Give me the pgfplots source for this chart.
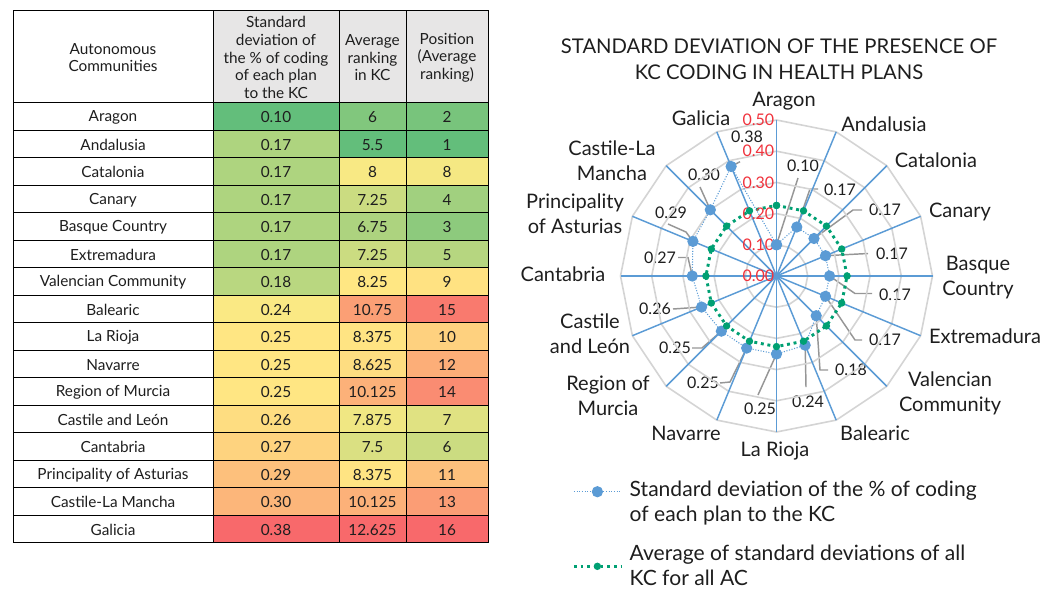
\documentclass[border=0pt]{standalone}
\usepackage{pgfplots}
\pgfplotsset{compat=1.18}
\usepgfplotslibrary{polar}
\usepackage{fontspec}
\setmainfont{Lato}
\definecolor{spoke}{RGB}{91,155,213}
\definecolor{avg}{RGB}{0,160,115}
\definecolor{gridc}{RGB}{212,212,212}
\definecolor{txt}{RGB}{30,30,30}
\definecolor{lead}{RGB}{150,150,150}
\definecolor{hdr}{RGB}{231,230,230}
\definecolor{tickred}{RGB}{240,50,60}

\newcommand{\tfont}{\fontsize{11.5}{13.3}\selectfont}
\newcommand{\cfont}{\fontsize{15}{18.8}\selectfont}
\newcommand{\lfont}{\fontsize{15.8}{18.8}\selectfont}
\newcommand{\dfont}{\fontsize{12}{14}\selectfont}

\newcommand{\tcell}[6]{%
 \addplot[draw=black, line width=0.75pt, fill={#5}] coordinates {(#1,#3) (#2,#3) (#2,#4) (#1,#4)} -- cycle;
 \node[font=\tfont, text=txt, align=center, yshift=-0.8pt] at (axis cs:{(#1+#2)/2},{(#3+#4)/2}) {#6};
}
\newcommand{\trow}[9]{%
 \tcell{13}{213}{#1}{#2}{white}{#3}%
 \tcell{213}{339}{#1}{#2}{#5}{#4}%
 \tcell{339}{406}{#1}{#2}{#7}{#6}%
 \tcell{406}{488}{#1}{#2}{#9}{#8}%
}

\begin{document}
\begin{tikzpicture}
\useasboundingbox (0,0) rectangle (792.75pt,-441.75pt);
\begin{axis}[
  at={(0,0)}, anchor=north west,
  x=0.75pt, y=0.75pt, y dir=reverse,
  xmin=0, xmax=1057, ymin=0, ymax=589,
  hide axis, clip=false,
]
% header
\tcell{13}{213}{10.5}{102.5}{white}{Autonomous\\Communities}
\tcell{213}{339}{10.5}{102.5}{hdr}{Standard\\deviation of\\the \% of coding\\of each plan\\to the KC}
\tcell{339}{406}{10.5}{102.5}{hdr}{Average\\ranking\\in KC}
\tcell{406}{488}{10.5}{102.5}{hdr}{Position\\(Average\\ranking)}
% rows
\trow{102.5}{130}{Aragon}{0.10}{rgb,255:red,99;green,190;blue,123}{6}{rgb,255:red,129;green,199;blue,125}{2}{rgb,255:red,120;green,196;blue,124}
\trow{130}{157.5}{Andalusia}{0.17}{rgb,255:red,174;green,212;blue,127}{5.5}{rgb,255:red,99;green,190;blue,123}{1}{rgb,255:red,99;green,190;blue,123}
\trow{157.5}{185}{Catalonia}{0.17}{rgb,255:red,174;green,212;blue,127}{8}{rgb,255:red,248;green,233;blue,132}{8}{rgb,255:red,245;green,232;blue,131}
\trow{185}{212.5}{Canary}{0.17}{rgb,255:red,174;green,212;blue,127}{7.25}{rgb,255:red,203;green,220;blue,129}{4}{rgb,255:red,161;green,208;blue,127}
\trow{212.5}{240}{Basque Country}{0.17}{rgb,255:red,174;green,212;blue,127}{6.75}{rgb,255:red,173;green,211;blue,127}{3}{rgb,255:red,141;green,202;blue,125}
\trow{240}{267.5}{Extremadura}{0.17}{rgb,255:red,174;green,212;blue,127}{7.25}{rgb,255:red,203;green,220;blue,129}{5}{rgb,255:red,182;green,214;blue,128}
\trow{267.5}{295}{Valencian Community}{0.18}{rgb,255:red,185;green,215;blue,128}{8.25}{rgb,255:red,255;green,231;blue,131}{9}{rgb,255:red,255;green,226;blue,130}
\trow{295}{322.5}{Balearic}{0.24}{rgb,255:red,250;green,233;blue,132}{10.75}{rgb,255:red,251;green,159;blue,117}{15}{rgb,255:red,249;green,122;blue,110}
\trow{322.5}{350}{La Rioja}{0.25}{rgb,255:red,255;green,230;blue,131}{8.375}{rgb,255:red,255;green,228;blue,131}{10}{rgb,255:red,254;green,209;blue,127}
\trow{350}{377.5}{Navarre}{0.25}{rgb,255:red,255;green,230;blue,131}{8.625}{rgb,255:red,254;green,221;blue,129}{12}{rgb,255:red,252;green,174;blue,120}
\trow{377.5}{405}{Region of Murcia}{0.25}{rgb,255:red,255;green,230;blue,131}{10.125}{rgb,255:red,252;green,177;blue,121}{14}{rgb,255:red,250;green,140;blue,114}
\trow{405}{432.5}{Castile and León}{0.26}{rgb,255:red,254;green,221;blue,129}{7.875}{rgb,255:red,240;green,231;blue,131}{7}{rgb,255:red,224;green,226;blue,130}
\trow{432.5}{460}{Cantabria}{0.27}{rgb,255:red,254;green,211;blue,127}{7.5}{rgb,255:red,218;green,224;blue,130}{6}{rgb,255:red,203;green,220;blue,129}
\trow{460}{487.5}{Principality of Asturias}{0.29}{rgb,255:red,253;green,192;blue,124}{8.375}{rgb,255:red,255;green,228;blue,131}{11}{rgb,255:red,253;green,192;blue,124}
\trow{487.5}{515}{Castile-La Mancha}{0.30}{rgb,255:red,252;green,182;blue,122}{10.125}{rgb,255:red,252;green,177;blue,121}{13}{rgb,255:red,251;green,157;blue,117}
\trow{515}{542.5}{Galicia}{0.38}{rgb,255:red,248;green,105;blue,107}{12.625}{rgb,255:red,248;green,105;blue,107}{16}{rgb,255:red,248;green,105;blue,107}

% title
\node[font=\fontsize{15.2}{19.5}\selectfont, text=txt, align=center] at (axis cs:779,59) {STANDARD DEVIATION OF THE PRESENCE OF\\KC CODING IN HEALTH PLANS};

% category labels
\begin{scope}[every node/.style={font=\cfont, text=txt, align=center}]
\node at (axis cs:784,101) {Aragon};
\node at (axis cs:884,124) {Andalusia};
\node at (axis cs:936,160) {Catalonia};
\node at (axis cs:960,212) {Canary};
\node at (axis cs:978,278) {Basque\\Country};
\node at (axis cs:985,336) {Extremadura};
\node at (axis cs:950,393) {Valencian\\Community};
\node at (axis cs:875,433) {Balearic};
\node at (axis cs:775,451) {La Rioja};
\node at (axis cs:686,433) {Navarre};
\node at (axis cs:608,396) {Region of\\Murcia};
\node at (axis cs:590,334) {Castile\\and León};
\node at (axis cs:563,274) {Cantabria};
\node at (axis cs:575,214) {Principality\\of Asturias};
\node at (axis cs:612,161) {Castile-La\\Mancha};
\node at (axis cs:701,118) {Galicia};
\end{scope}

% leader lines
\begin{scope}[lead, line width=1.1pt]
\draw (axis cs:798,178) -- (axis cs:776.5,244.8);
\draw (axis cs:818,189) -- (axis cs:810,189) -- (axis cs:796.8,227);
\draw (axis cs:862,210) -- (axis cs:853,210) -- (axis cs:814,238.5);
\draw (axis cs:868,253.5) -- (axis cs:825.5,255.7);
\draw (axis cs:872,293.5) -- (axis cs:855,293.5) -- (axis cs:829.5,276);
\draw (axis cs:862,340) -- (axis cs:855,340) -- (axis cs:825.5,296.3);
\draw (axis cs:828,370) -- (axis cs:820,370) -- (axis cs:816.2,315.7);
\draw (axis cs:806,387) -- (axis cs:805.2,345.2);
\draw (axis cs:758,395) -- (axis cs:776.5,354);
\draw (axis cs:720,383) -- (axis cs:730,382) -- (axis cs:746.6,348.1);
\draw (axis cs:692,348) -- (axis cs:702,348) -- (axis cs:721.3,331.2);
\draw (axis cs:673,309) -- (axis cs:701.6,307);
\draw (axis cs:678,257.5) -- (axis cs:688,257.5) -- (axis cs:692.3,276);
\draw (axis cs:668,224) -- (axis cs:686,232) -- (axis cs:692.9,241.4);
\draw (axis cs:700,187) -- (axis cs:710.3,209.8);
\draw (axis cs:740,161.7) -- (axis cs:731.1,166.5);
\end{scope}
% data labels
\begin{scope}[every node/.style={font=\dfont, text=txt}]
\node at (axis cs:803,166) {0.10};
\node at (axis cs:840,190) {0.17};
\node at (axis cs:885,210) {0.17};
\node at (axis cs:892,254) {0.17};
\node at (axis cs:895,294.5) {0.17};
\node at (axis cs:885,340) {0.17};
\node at (axis cs:851,370) {0.18};
\node at (axis cs:808,402) {0.24};
\node at (axis cs:760,409) {0.25};
\node at (axis cs:703,383) {0.25};
\node at (axis cs:675,348) {0.25};
\node at (axis cs:655,309) {0.26};
\node at (axis cs:660,258) {0.27};
\node at (axis cs:671,213) {0.29};
\node at (axis cs:704,175) {0.30};
\node at (axis cs:747,137) {0.38};
\end{scope}
\end{axis}

\begin{polaraxis}[
  at={(582.375pt,-207pt)}, anchor=center,
  scale only axis, width=234pt, height=234pt,
  xmin=0, xmax=360, ymin=0, ymax=0.5,
  hide axis, clip=false,
  legend cell align=left,
  legend style={at={(axis description cs:-0.155,-0.148)}, anchor=north west,
    draw=none, fill=none, font=\lfont, text=txt, row sep=12pt, column sep=3.5pt, inner sep=0pt,
    cells={align=left}},
  legend image code/.code={\draw[mark repeat=2, mark phase=2, #1] plot coordinates {(0cm,0cm) (0.62cm,0cm) (1.24cm,0cm)};},
]
\pgfplotsinvokeforeach{0.1,0.2,0.3,0.4,0.5}{
 \addplot[gridc, line width=1.2pt, forget plot] coordinates {(0,#1) (22.5,#1) (45,#1) (67.5,#1) (90,#1) (112.5,#1) (135,#1) (157.5,#1) (180,#1) (202.5,#1) (225,#1) (247.5,#1) (270,#1) (292.5,#1) (315,#1) (337.5,#1) (360,#1)};
}
\pgfplotsinvokeforeach{0,22.5,45,67.5,90,112.5,135,157.5,180,202.5,225,247.5,270,292.5,315,337.5}{
 \addplot[spoke, line width=1.1pt, forget plot] coordinates {(#1,0) (#1,0.5)};
}
\addplot[spoke, line width=0.8pt, dash pattern=on 0.8pt off 1.2pt, mark=*, mark size=3.8pt, mark options={solid, fill=spoke, draw=spoke}, legend image post style={yshift=8pt}] coordinates {
(90,0.10) (67.5,0.17) (45,0.17) (22.5,0.17) (0,0.17) (337.5,0.17) (315,0.18) (292.5,0.24)
(270,0.25) (247.5,0.25) (225,0.25) (202.5,0.26) (180,0.27) (157.5,0.29) (135,0.30) (112.5,0.38) (90,0.10)};
\addlegendentry{Standard deviation of the \% of coding\\of each plan to the KC}
\addplot[avg, line width=2.2pt, dash pattern=on 2.2pt off 2.8pt, mark=*, mark size=1.6pt, mark options={solid}] coordinates {
(90,0.22625) (67.5,0.22625) (45,0.22625) (22.5,0.22625) (0,0.22625) (337.5,0.22625) (315,0.22625) (292.5,0.22625)
(270,0.22625) (247.5,0.22625) (225,0.22625) (202.5,0.22625) (180,0.22625) (157.5,0.22625) (135,0.22625) (112.5,0.22625) (90,0.22625)};
\addlegendentry{Average of standard deviations of all\\KC for all AC}
\begin{scope}[every node/.style={font=\dfont, text=tickred, anchor=east, inner xsep=1.5pt}]
\node at (axis cs:90,0) {0.00};
\node at (axis cs:90,0.1) {0.10};
\node at (axis cs:90,0.2) {0.20};
\node at (axis cs:90,0.3) {0.30};
\node at (axis cs:90,0.4) {0.40};
\node at (axis cs:90,0.5) {0.50};
\end{scope}
\end{polaraxis}
\end{tikzpicture}
\end{document}
